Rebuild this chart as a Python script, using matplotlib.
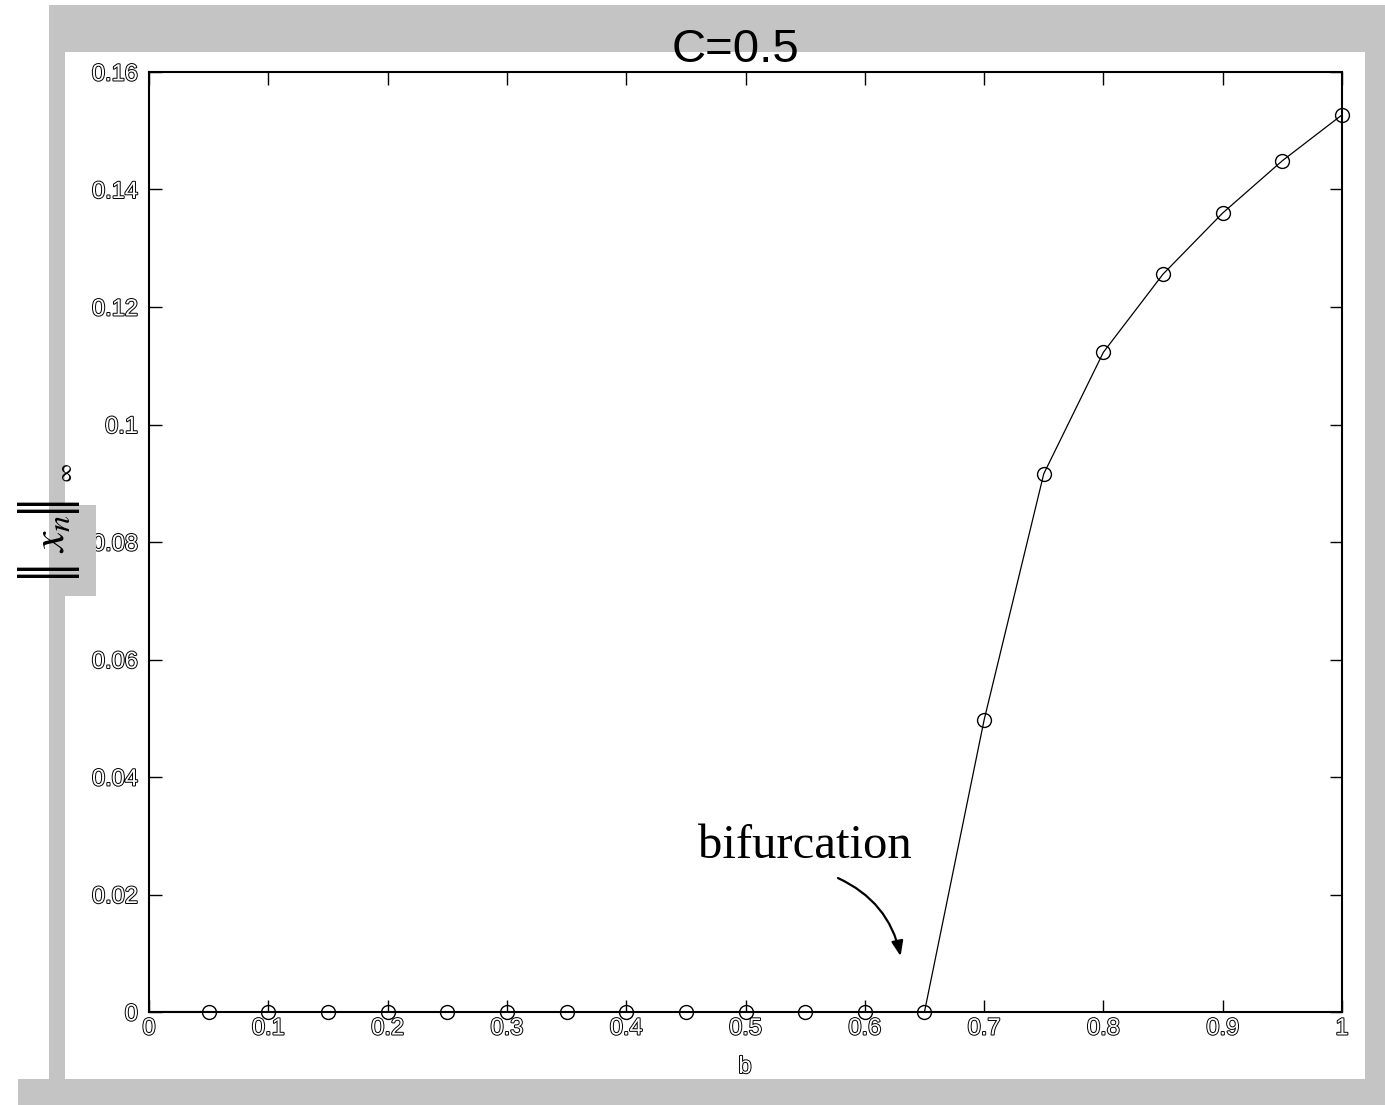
import numpy as np
import matplotlib
matplotlib.use('Agg')
import matplotlib.pyplot as plt
import matplotlib.patheffects as pe
from matplotlib.patches import Rectangle

plt.rcParams['mathtext.fontset'] = 'stix'

# sup-norm of the iterates vs. parameter b (C = 0.5)
b_vals = [0.05, 0.10, 0.15, 0.20, 0.25, 0.30, 0.35, 0.40, 0.45, 0.50,
          0.55, 0.60, 0.65, 0.70, 0.75, 0.80, 0.85, 0.90, 0.95, 1.00]
xn_norm = [0.0, 0.0, 0.0, 0.0, 0.0, 0.0, 0.0, 0.0, 0.0, 0.0,
           0.0, 0.0, 0.0, 0.0497, 0.0916, 0.1123, 0.1256, 0.1360, 0.1449, 0.1527]

x_ticks = [0, 0.1, 0.2, 0.3, 0.4, 0.5, 0.6, 0.7, 0.8, 0.9, 1]
x_ticklabels = ['0', '0.1', '0.2', '0.3', '0.4', '0.5', '0.6', '0.7', '0.8', '0.9', '1']
y_ticks = [0, 0.02, 0.04, 0.06, 0.08, 0.1, 0.12, 0.14, 0.16]
y_ticklabels = ['0', '0.02', '0.04', '0.06', '0.08', '0.1', '0.12', '0.14', '0.16']

W, H = 1385, 1105
GRAY = '#c4c4c4'
hollow = [pe.withStroke(linewidth=1.4, foreground='black')]


def fx(px):
    return px / W


def fy(py):
    return 1 - py / H


fig = plt.figure(figsize=(W / 100, H / 100), dpi=100)
ax = fig.add_axes([fx(149), fy(1012), (1342 - 149) / W, (1012 - 72) / H])

ax.plot(b_vals, xn_norm, color='black', lw=0.9, marker='o', ms=10,
        mfc='none', mec='black', mew=1.0, clip_on=False)
ax.plot([0, b_vals[0]], [0, 0], color='black', lw=1.5)

ax.set_xlim(0, 1)
ax.set_ylim(0, 0.16)
ax.set_xticks(x_ticks)
ax.set_xticklabels(x_ticklabels)
ax.set_yticks(y_ticks)
ax.set_yticklabels(y_ticklabels)
ax.tick_params(direction='in', length=9, width=1.0, top=True, right=True,
               labelsize=17)
ax.tick_params(axis='x', pad=4)
ax.tick_params(axis='y', pad=8)
for lab in ax.get_xticklabels() + ax.get_yticklabels():
    lab.set_fontfamily('Liberation Sans')
    lab.set_color('white')
    lab.set_path_effects(hollow)
for sp in ax.spines.values():
    sp.set_linewidth(1.5)

fig.text(fx(745), fy(1073), 'b', fontsize=17, family='Liberation Sans',
         color='white', path_effects=hollow, ha='center', va='baseline')

# annotation
ax.text(0.550, 0.0262, 'bifurcation', family='Liberation Serif', fontsize=35,
        ha='center', va='baseline')
ax.annotate('', xy=(0.630, 0.0095), xytext=(0.5775, 0.0228),
            arrowprops=dict(arrowstyle='-|>,head_length=0.9,head_width=0.35',
                            connectionstyle='arc3,rad=-0.25', color='black',
                            lw=1.6, shrinkA=0, shrinkB=0))


# grey window frame
def px_rect(x0, y0, x1, y1, z):
    r = Rectangle((fx(x0), fy(y1)), (x1 - x0) / W, (y1 - y0) / H,
                  transform=fig.transFigure, fc=GRAY, ec='none', zorder=z)
    fig.add_artist(r)


px_rect(49, 5, 1385, 52, 1)
px_rect(49, 5, 65, 1079, 1)
px_rect(1365, 5, 1385, 1079, 1)
px_rect(18, 1079, 1385, 1105, 1)
px_rect(49, 505, 96, 596, 1)

# y label: ||x_n||_inf, built from pieces (rotated)
for yb in (498.5, 505.5, 563.5, 570.5):
    fig.text(fx(44.5), fy(yb), '|', rotation=90, fontsize=48,
             family='Liberation Serif', ha='center', va='center', zorder=2)
fig.text(fx(51), fy(534), r'$x_n$', rotation=90, fontsize=33,
         ha='center', va='center', zorder=2)
fig.text(fx(66), fy(473), r'$\infty$', rotation=90, fontsize=15,
         ha='center', va='center', zorder=2)

fig.text(fx(735), fy(62), 'C=0.5', family='Liberation Sans', fontsize=34,
         ha='center', va='baseline', zorder=3)

fig.savefig('out.png', dpi=100)
